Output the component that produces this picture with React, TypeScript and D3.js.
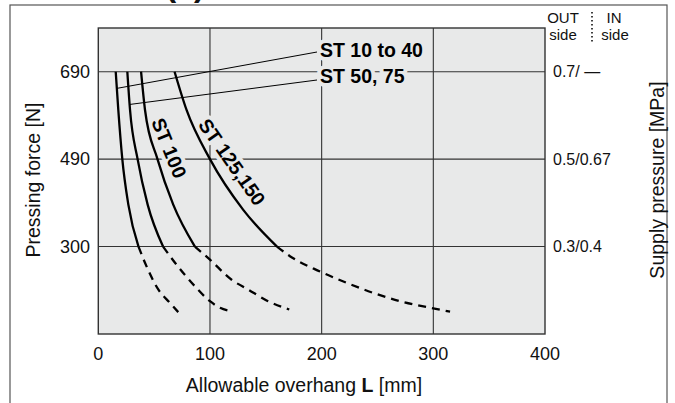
import React from 'react';
import * as d3 from 'd3';

// ---- data (x: allowable overhang L [mm], y: OUT-side supply pressure [MPa]) ----
const xTicks = [0, 100, 200, 300, 400];
const gridPressures = [0.7, 0.5, 0.3];
const forceLabels = ['690', '490', '300'];
const pressureLabels = ['0.7/ \u2014', '0.5/0.67', '0.3/0.4'];

const st10to40Solid: [number, number][] = [[15.6, 0.7], [17.9, 0.613], [21.5, 0.5], [26.9, 0.396], [36, 0.3]];
const st10to40Dash: [number, number][] = [[36, 0.3], [41.8, 0.263], [53.7, 0.202], [64.2, 0.171], [71.6, 0.15]];
const st50Solid: [number, number][] = [[26, 0.7], [28.4, 0.613], [35.2, 0.5], [44.2, 0.396], [58, 0.3]];
const st50Dash: [number, number][] = [[58, 0.3], [68.7, 0.263], [86.6, 0.209], [100, 0.175], [109, 0.16], [118.8, 0.152]];
const st100Solid: [number, number][] = [[38.3, 0.7], [41.8, 0.613], [53, 0.5], [67.1, 0.396], [86.5, 0.3]];
const st100Dash: [number, number][] = [[86.5, 0.3], [100, 0.27], [119.4, 0.224], [134.3, 0.2016], [152, 0.175], [171, 0.156]];
const st125Solid: [number, number][] = [[68.3, 0.7], [79.1, 0.612], [100, 0.5], [129.8, 0.384], [160, 0.3]];
const st125Dash: [number, number][] = [[160, 0.3], [171.6, 0.278], [198.5, 0.243], [222.4, 0.217], [246.2, 0.194], [270, 0.175], [297, 0.16], [315, 0.151]];

const solidSeries = [st10to40Solid, st50Solid, st100Solid, st125Solid];
const dashSeries = [st10to40Dash, st50Dash, st100Dash, st125Dash];

const FONT = '"Liberation Sans", Arial, Helvetica, sans-serif';
const BG = '#e8e9e9';

export default function App() {
  const x = d3.scaleLinear().domain([0, 400]).range([98.3, 545]);
  const y = d3.scaleLinear().domain([0.1, 0.8]).range([334, 28]);
  const line = d3
    .line<[number, number]>()
    .x((d) => x(d[0]))
    .y((d) => y(d[1]))
    .curve(d3.curveMonotoneX);

  const [x0, x1] = x.range();
  const [yb, yt] = y.range();

  const maskText = {
    stroke: BG,
    strokeWidth: 8,
    paintOrder: 'stroke' as const,
    strokeLinejoin: 'round' as const,
  };

  return (
    <svg
      width={675}
      height={403}
      style={{ position: 'absolute', left: 0, top: 0, background: '#fff' }}
      fontFamily={FONT}
    >
      {/* title remnant (cut off at the top edge, as in the reference) */}
      <text x={185} y={-4} textAnchor="middle" fontSize={32} fontWeight="bold" fill="#111">
        (a)
      </text>
      {/* outer frame */}
      <rect x={10} y={5} width={657} height={420} fill="none" stroke="#555" strokeWidth={1.2} />

      {/* plot background */}
      <rect x={x0} y={yt} width={x1 - x0} height={yb - yt} fill={BG} />

      {/* grid */}
      {xTicks.slice(1, -1).map((t) => (
        <line key={'gx' + t} x1={x(t)} x2={x(t)} y1={yt} y2={yb} stroke="#333" strokeWidth={1.1} />
      ))}
      {gridPressures.map((p) => (
        <line key={'gy' + p} x1={x0} x2={x1} y1={y(p)} y2={y(p)} stroke="#333" strokeWidth={1.1} />
      ))}

      {/* labels with background masks */}
      <g fontWeight="bold" fontSize={19.5} fill="#000">
        <text x={320} y={57} {...maskText}>ST 10 to 40</text>
        <text x={320} y={83} {...maskText}>ST 50, 75</text>
        <text
          transform={`translate(169,148) rotate(68)`}
          textAnchor="middle"
          dy="0.35em"
          {...maskText}
        >
          ST 100
        </text>
        <text
          transform={`translate(232,162) rotate(55)`}
          textAnchor="middle"
          dy="0.35em"
          {...maskText}
        >
          ST 125,150
        </text>
      </g>

      {/* leader lines */}
      <line x1={x(st10to40Solid[0][0]) + 1.5} y1={y(0.662)} x2={317} y2={52} stroke="#000" strokeWidth={1} />
      <line x1={x(st50Solid[0][0]) + 2} y1={y(0.625)} x2={317} y2={80} stroke="#000" strokeWidth={1} />

      {/* curves */}
      {solidSeries.map((s, i) => (
        <path key={'s' + i} d={line(s) || ''} fill="none" stroke="#000" strokeWidth={2.3} />
      ))}
      {dashSeries.map((s, i) => (
        <path
          key={'d' + i}
          d={line(s) || ''}
          fill="none"
          stroke="#000"
          strokeWidth={2.3}
          strokeDasharray="8,6"
        />
      ))}

      {/* plot border */}
      <rect x={x0} y={yt} width={x1 - x0} height={yb - yt} fill="none" stroke="#333" strokeWidth={1.4} />

      {/* left ticks */}
      {gridPressures.map((p, i) => (
        <text key={'lf' + i} x={90} y={y(p)} dy="0.35em" textAnchor="end" fontSize={18} fill="#111">
          {forceLabels[i]}
        </text>
      ))}
      {/* right ticks */}
      {gridPressures.map((p, i) => (
        <text key={'rp' + i} x={553} y={y(p)} dy="0.35em" textAnchor="start" fontSize={16} fill="#111">
          {pressureLabels[i]}
        </text>
      ))}
      {/* bottom ticks */}
      {xTicks.map((t) => (
        <text key={'bx' + t} x={x(t)} y={360} textAnchor="middle" fontSize={18} fill="#111">
          {t}
        </text>
      ))}

      {/* axis titles */}
      <text x={304} y={392} textAnchor="middle" fontSize={19.5} fill="#111">
        Allowable overhang <tspan fontWeight="bold">L</tspan> [mm]
      </text>
      <text transform="translate(33,180) rotate(-90)" textAnchor="middle" dy="0.35em" fontSize={19.5} fill="#111">
        Pressing force [N]
      </text>
      <text transform="translate(657,180) rotate(-90)" textAnchor="middle" dy="0.35em" fontSize={19.5} fill="#111">
        Supply pressure [MPa]
      </text>

      {/* OUT / IN header */}
      <g fontSize={15} fill="#111">
        <text x={563} y={23} textAnchor="middle">OUT</text>
        <text x={563} y={40} textAnchor="middle">side</text>
        <text x={614} y={23} textAnchor="middle">IN</text>
        <text x={615} y={40} textAnchor="middle">side</text>
      </g>
      <line x1={592} x2={592} y1={12} y2={42} stroke="#111" strokeWidth={1.6} strokeDasharray="1.6,2.4" />
    </svg>
  );
}
